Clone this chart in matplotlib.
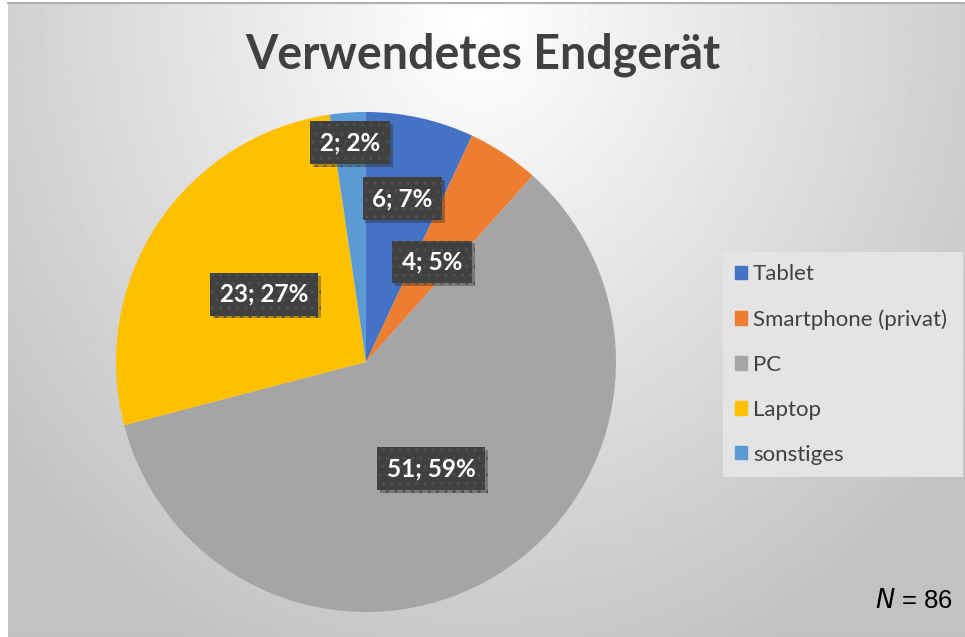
import numpy as np
import matplotlib.pyplot as plt
import matplotlib.patheffects as pe

categories = ['Tablet', 'Smartphone (privat)', 'PC', 'Laptop', 'sonstiges']
counts = [6, 4, 51, 23, 2]
percents = [7, 5, 59, 27, 2]
colors = ['#4472c4', '#ed7d31', '#a5a5a5', '#ffc000', '#5b9bd5']
label_dist = [0.67, 0.48, 0.50, 0.49, 0.88]

W, H = 965, 637
fig = plt.figure(figsize=(W / 100, H / 100), dpi=100)
fig.patch.set_facecolor('white')

# radial gradient background (chart area)
bg = fig.add_axes([8 / W, 0, 1 - 8 / W, 1 - 3 / H])
yy, xx = np.mgrid[0:H, 0:W - 8]
d = np.sqrt(((xx - 470) / 620.0) ** 2 + ((yy - 20) / 700.0) ** 2)
shade = 1.0 - 0.24 * np.clip(d, 0, 1)
bg.imshow(shade, cmap='gray', vmin=0, vmax=1, aspect='auto', interpolation='bilinear')
bg.set_axis_off()
fig.add_artist(plt.Line2D([8 / W, 1], [1 - 3 / H, 1 - 3 / H], color='#b0b0b0', lw=1.5))

fig.text(483 / W, 1 - 55 / H, 'Verwendetes Endgerät', ha='center', va='center',
         fontsize=33.5, fontweight='bold', color='#404040', family='Lato')

# pie
cx, cy, r = 366, 362, 250
ax = fig.add_axes([(cx - r) / W, (H - cy - r) / H, 2 * r / W, 2 * r / H])
wedges, _ = ax.pie(counts, colors=colors, startangle=90, counterclock=False,
                   wedgeprops=dict(linewidth=0))
ax.set_xlim(-1, 1)
ax.set_ylim(-1, 1)
ax.set_aspect('equal')

for w, n, p, ld in zip(wedges, counts, percents, label_dist):
    ang = np.deg2rad((w.theta1 + w.theta2) / 2)
    t = ax.text(ld * np.cos(ang), ld * np.sin(ang), f'{n}; {p}%', ha='center', va='center',
                fontsize=17.5, fontweight='bold', color='white', family='Lato',
                bbox=dict(boxstyle='square,pad=0.4', facecolor='#404040',
                          edgecolor='#505050', linewidth=0, hatch='..'))
    t.get_bbox_patch().set_path_effects([pe.SimplePatchShadow(offset=(2, -2), alpha=0.3),
                                         pe.Normal()])

# legend
lax = fig.add_axes([723 / W, (H - 477) / H, 240 / W, 225 / H])
lax.set_facecolor('#e4e4e4')
lax.set_xticks([])
lax.set_yticks([])
for s in lax.spines.values():
    s.set_visible(False)
handles = [plt.Rectangle((0, 0), 1, 1, color=c) for c in colors]
lax.legend(handles, categories, loc='center left', frameon=False,
           labelcolor='#404040', prop={'family': 'Lato', 'size': 16},
           handlelength=0.55, handleheight=0.55, handletextpad=0.25, labelspacing=1.12,
           borderaxespad=0.15)

fig.text(953 / W, 1 - 601 / H, r'$\it{N}$ = 86', ha='right', va='center',
         fontsize=18.5, family='Liberation Sans', color='black')

fig.savefig('out.png', dpi=100)
